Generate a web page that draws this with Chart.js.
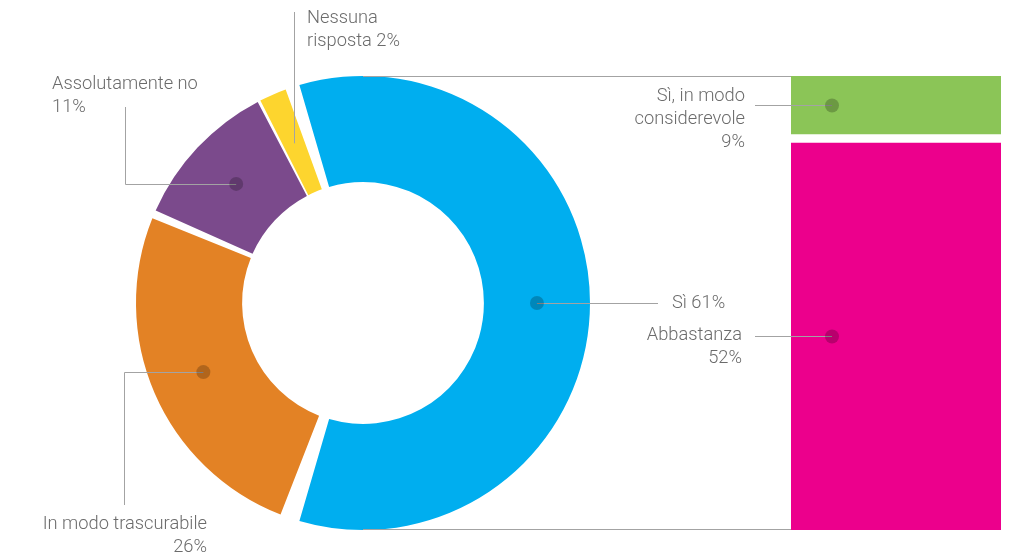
<!DOCTYPE html>
<html>
<head>
<meta charset="utf-8">
<script src="https://cdn.jsdelivr.net/npm/chart.js@4"></script>
<style>
  html, body { margin: 0; padding: 0; background: #fff; }
  #wrap { position: relative; width: 1016px; height: 557px; }
  #wrap canvas { position: absolute; left: 0; top: 0; }
</style>
</head>
<body>
<div id="wrap">
  <canvas id="donut" width="1016" height="557"></canvas>
  <canvas id="bars" width="1016" height="557"></canvas>
</div>
<script>
// risposte principali (anello)
const categories = ['Sì', 'In modo trascurabile', 'Assolutamente no', 'Nessuna risposta'];
const shares = [61, 26, 11, 2];
const shareColors = ['#00aeef', '#e38225', '#7b4a8c', '#fdd52e'];

// dettaglio del "Sì" (barra a destra)
const siParts = ['Abbastanza', 'Sì, in modo considerevole'];
const siValues = [52, 9];
const siColors = ['#ec008c', '#8bc557'];

const textColor = '#6b6b6b';
const lineColor = '#a3a3a3';
const font = '300 18.3px Roboto, "Liberation Sans", sans-serif';
const lineH = 23;
const barLeft = 791;
const gap = 11;

function drawLines(ctx, lines, x, y, align) {
    ctx.textAlign = align;
    ctx.textBaseline = 'middle';
    lines.forEach((t, i) => ctx.fillText(t, x, y + i * lineH));
}

function path(ctx, pts) {
    ctx.beginPath();
    ctx.moveTo(pts[0][0], pts[0][1]);
    for (let i = 1; i < pts.length; i++) ctx.lineTo(pts[i][0], pts[i][1]);
    ctx.stroke();
}

function dot(ctx, x, y) {
    ctx.beginPath();
    ctx.arc(x, y, 7, 0, Math.PI * 2);
    ctx.fillStyle = 'rgba(0,0,0,0.22)';
    ctx.fill();
}

// etichette e linee guida dell'anello
const donutLabels = {
    id: 'donutLabels',
    afterDraw(chart) {
        const ctx = chart.ctx;
        const arcs = chart.getDatasetMeta(0).data;
        const cx = arcs[0].x, cy = arcs[0].y, r = arcs[0].outerRadius + gap / 2;
        const pts = arcs.map(a => a.tooltipPosition());
        ctx.save();
        ctx.strokeStyle = lineColor;
        ctx.lineWidth = 1;
        ctx.font = font;

        // collegamento con la barra
        path(ctx, [[cx, Math.round(cy - r) + 0.5], [barLeft, Math.round(cy - r) + 0.5]]);
        path(ctx, [[cx, Math.round(cy + r) - 0.5], [barLeft, Math.round(cy + r) - 0.5]]);

        const p0 = pts[0], p1 = pts[1], p2 = pts[2], p3 = pts[3];
        path(ctx, [[p0.x, Math.round(p0.y) + 0.5], [658, Math.round(p0.y) + 0.5]]);
        path(ctx, [[p1.x, Math.round(p1.y) + 0.5], [124.5, Math.round(p1.y) + 0.5], [124.5, 505]]);
        path(ctx, [[p2.x, Math.round(p2.y) + 0.5], [125.5, Math.round(p2.y) + 0.5], [125.5, 107]]);
        path(ctx, [[Math.round(p3.x) + 0.5, p3.y], [Math.round(p3.x) + 0.5, 12]]);

        dot(ctx, p0.x, p0.y);
        dot(ctx, p1.x, p1.y);
        dot(ctx, p2.x, p2.y);

        ctx.fillStyle = textColor;
        drawLines(ctx, [categories[0] + ' ' + shares[0] + '%'], 672, p0.y, 'left');
        drawLines(ctx, [categories[1], shares[1] + '%'], 207, 524, 'right');
        drawLines(ctx, [categories[2], shares[2] + '%'], 52, 84, 'left');
        drawLines(ctx, ['Nessuna', 'risposta ' + shares[3] + '%'], 307, 18, 'left');
        ctx.restore();
    }
};

new Chart(document.getElementById('donut'), {
    type: 'doughnut',
    data: {
        labels: categories,
        datasets: [{
            data: shares,
            backgroundColor: shareColors,
            borderWidth: 0,
            spacing: gap
        }]
    },
    options: {
        responsive: false,
        animation: false,
        events: [],
        radius: 221.5,
        cutout: '52.1%',
        rotation: -19.8,
        layout: { padding: { left: 136, right: 426, top: 76, bottom: 27 } },
        plugins: { legend: { display: false }, tooltip: { enabled: false } }
    },
    plugins: [donutLabels]
});

// etichette della barra
const barLabels = {
    id: 'barLabels',
    afterDraw(chart) {
        const ctx = chart.ctx;
        ctx.save();
        ctx.strokeStyle = lineColor;
        ctx.lineWidth = 1;
        ctx.font = font;
        const pAbb = chart.getDatasetMeta(0).data[0];
        const pCons = chart.getDatasetMeta(1).data[0];
        const xDot = pAbb.x - pAbb.width / 2 + 41;
        const yAbb = Math.round((pAbb.y + pAbb.base) / 2) + 0.5;
        const yCons = Math.round((pCons.y + pCons.base - 9) / 2) + 0.5;

        path(ctx, [[755, yCons], [xDot, yCons]]);
        path(ctx, [[755, yAbb], [xDot, yAbb]]);
        dot(ctx, xDot, yCons);
        dot(ctx, xDot, yAbb);

        ctx.fillStyle = textColor;
        drawLines(ctx, ['Sì, in modo', 'considerevole', siValues[1] + '%'], 745, yCons - 9, 'right');
        drawLines(ctx, [siParts[0], siValues[0] + '%'], 742, yAbb - 1, 'right');
        ctx.restore();
    }
};

new Chart(document.getElementById('bars'), {
    type: 'bar',
    data: {
        labels: ['Sì'],
        datasets: [
            { label: siParts[0], data: [siValues[0]], backgroundColor: siColors[0], borderWidth: 0 },
            {
                label: siParts[1], data: [siValues[1]], backgroundColor: siColors[1],
                borderColor: '#ffffff', borderSkipped: false,
                borderWidth: { top: 0, left: 0, right: 0, bottom: 9 }
            }
        ]
    },
    options: {
        responsive: false,
        animation: false,
        events: [],
        layout: { padding: { left: barLeft, right: 15, top: 76, bottom: 27 } },
        datasets: { bar: { categoryPercentage: 1, barPercentage: 1 } },
        scales: {
            x: { stacked: true, display: false },
            y: { stacked: true, display: false, min: 0, max: siValues[0] + siValues[1] }
        },
        plugins: { legend: { display: false }, tooltip: { enabled: false } }
    },
    plugins: [barLabels]
});
</script>
</body>
</html>
